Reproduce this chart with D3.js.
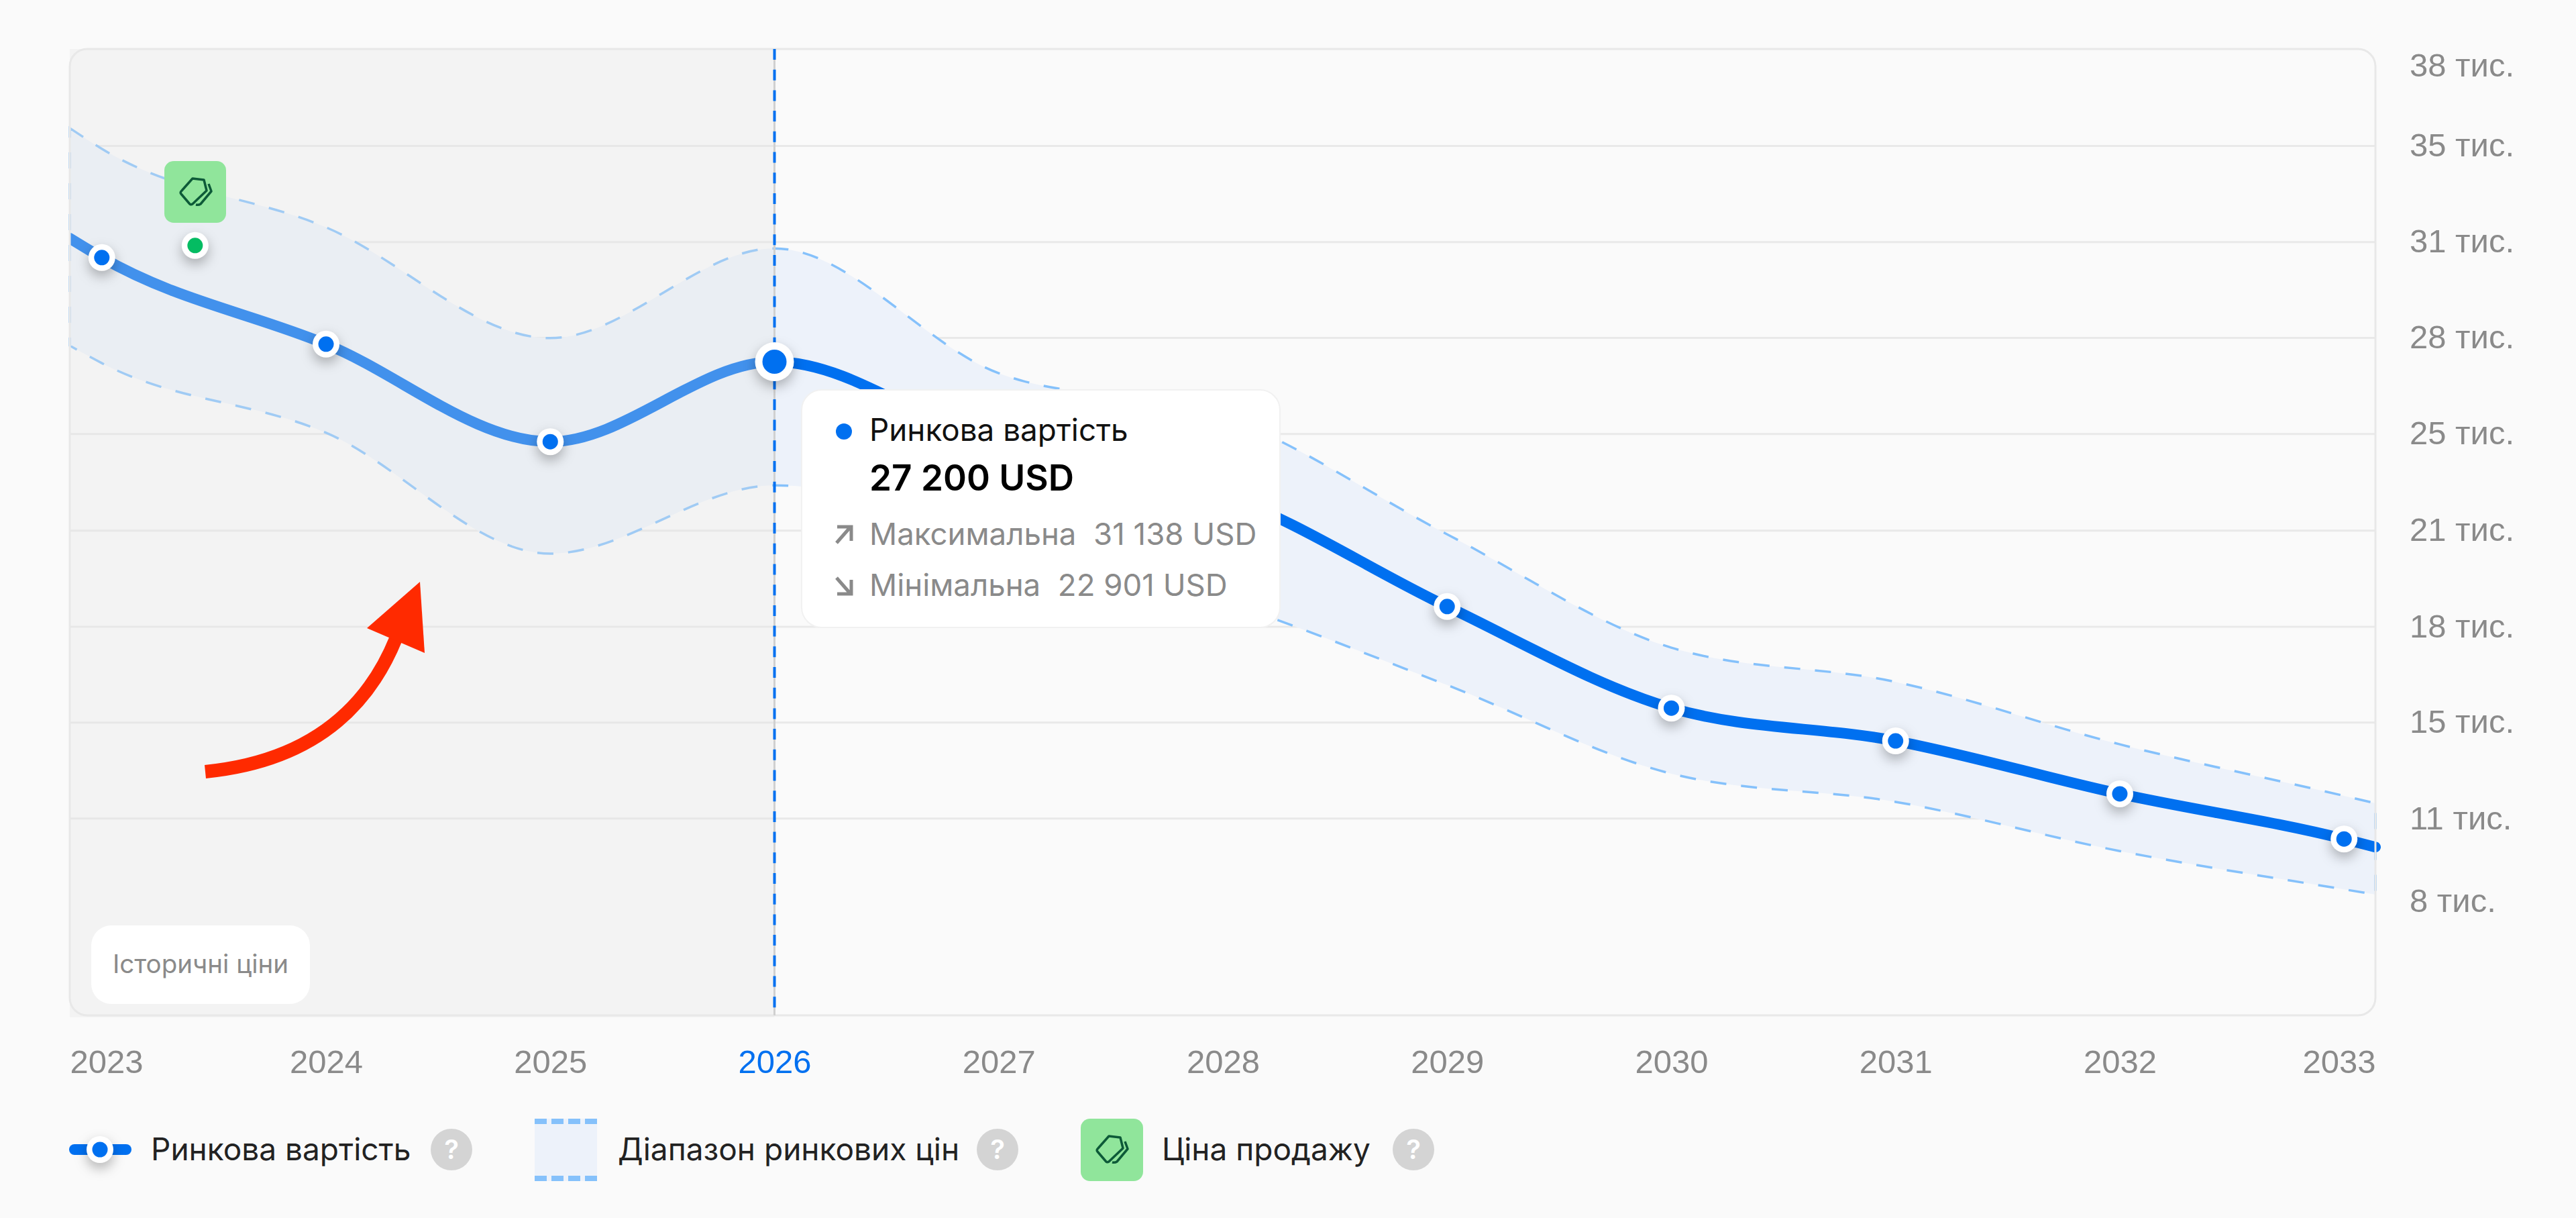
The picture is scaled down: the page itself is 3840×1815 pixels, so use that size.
<!DOCTYPE html>
<html>
<head>
<meta charset="utf-8">
<script src="https://cdnjs.cloudflare.com/ajax/libs/d3/7.8.5/d3.min.js"></script>
<style>
html,body{margin:0;padding:0;background:#fafafa;}
svg{display:block;font-family:Inter,"Noto Sans",sans-serif;}
.shadow{filter:drop-shadow(0 8px 9px rgba(0,0,0,.28));}
</style>
</head>
<body>
<svg id="chart" width="3840" height="1815"></svg>
<script>
// years for the point markers
var years = [2023,2024,2025,2026,2027,2028,2029,2030,2031,2032,2033];
var yearLabels = ["2023","2024","2025","2026","2027","2028","2029","2030","2031","2032","2033"];

// the curves start and stop a bit outside the first and last year
var lineYears = [2022.857,2023,2024,2025,2026,2027,2028,2029,2030,2031,2032,2033,2033.14];
var marketValue = [31490,30820,27810,24420,27200,24260,22580,18690,15160,14020,12180,10610,10330];
var rangeMax = [35320,34600,31870,28020,31138,26800,25310,21200,17260,16070,13900,12110,11850];
var rangeMin = [27760,27150,24730,20530,22901,21340,18900,15960,12880,11900,10190,8860,8680];

var yTicks = [37500,34710,31370,28040,24700,21340,18000,14670,11330,8450];
var yTickLabels = ["38 тис.","35 тис.","31 тис.","28 тис.","25 тис.","21 тис.","18 тис.","15 тис.","11 тис.","8 тис."];
var gridTicks = yTicks.slice(1,9);

var saleYear = 2023.416;
var saleValue = 31240;
var currentYear = 2026;

var legendLabels = ["Ринкова вартість","Діапазон ринкових цін","Ціна продажу"];

var blue = "#0070f0";
var grey = "#8a8a8a";

var svg = d3.select("#chart");
var left = 104, right = 3541, top_ = 73, bottom = 1513;

var x = d3.scaleLinear().domain([2022.857,2033.14]).range([left,right]);
var y = d3.scaleLinear().domain([4480,38070]).range([bottom,top_]);

var rows = lineYears.map(function(d,i){
    return {year:d,value:marketValue[i],max:rangeMax[i],min:rangeMin[i]};
});

var defs = svg.append("defs");
defs.append("clipPath").attr("id","leftClip").append("rect")
    .attr("x",left).attr("y",0).attr("width",3840-left).attr("height",1815);

// grid
var grid = svg.append("g")
    .attr("transform","translate("+left+",0)")
    .call(d3.axisRight(y).tickValues(gridTicks).tickSize(right-left).tickFormat(""));
grid.select(".domain").remove();
grid.selectAll("line").attr("stroke","#e9e9e9").attr("stroke-width",3);

// range band
var band = d3.area()
    .x(function(d){return x(d.year)})
    .y0(function(d){return y(d.min)})
    .y1(function(d){return y(d.max)})
    .curve(d3.curveMonotoneX);

svg.append("path").datum(rows)
    .attr("d",band)
    .attr("fill","#edf2fa")
    .attr("stroke","#85c1fb")
    .attr("stroke-width",3.5)
    .attr("stroke-dasharray","24 22");

// market value line
var line = d3.line()
    .x(function(d){return x(d.year)})
    .y(function(d){return y(d.value)})
    .curve(d3.curveMonotoneX);

svg.append("path").datum(rows)
    .attr("clip-path","url(#leftClip)")
    .attr("d",line)
    .attr("fill","none")
    .attr("stroke",blue)
    .attr("stroke-width",16)
    .attr("stroke-linecap","round");

// historical part is greyed over
svg.append("rect")
    .attr("x",left).attr("y",top_)
    .attr("width",x(currentYear)-left)
    .attr("height",bottom-top_+3)
    .attr("fill","rgba(227,227,227,0.29)");

// frame
svg.append("rect")
    .attr("x",left).attr("y",top_)
    .attr("width",right-left).attr("height",bottom-top_)
    .attr("rx",26)
    .attr("fill","none")
    .attr("stroke","#e8e8e8")
    .attr("stroke-width",3);

// current year marker line
svg.append("line")
    .attr("x1",x(currentYear)).attr("x2",x(currentYear))
    .attr("y1",top_).attr("y2",bottom)
    .attr("stroke","#d0d0d0").attr("stroke-width",3);
svg.append("line")
    .attr("x1",x(currentYear)).attr("x2",x(currentYear))
    .attr("y1",top_).attr("y2",bottom)
    .attr("stroke",blue).attr("stroke-width",4)
    .attr("stroke-dasharray","16 14.7");

// axes
var yAxis = svg.append("g")
    .attr("transform","translate("+right+",0)")
    .call(d3.axisRight(y).tickValues(yTicks).tickSize(0).tickPadding(51)
        .tickFormat(function(d,i){return yTickLabels[i]}));
yAxis.select(".domain").remove();
yAxis.selectAll("text").attr("fill",grey).style("font-size","49px");

var xAxis = svg.append("g")
    .attr("transform","translate(0,"+bottom+")")
    .call(d3.axisBottom(x).tickValues(years).tickSize(0).tickPadding(51)
        .tickFormat(function(d,i){return yearLabels[i]}));
xAxis.select(".domain").remove();
xAxis.selectAll("text")
    .attr("fill",function(d){return d===currentYear?blue:grey})
    .style("font-size","49px");
// first and last label stay inside the frame
xAxis.selectAll("text").filter(function(d){return d===years[0]})
    .attr("text-anchor","start").attr("x",left-x(years[0]));
xAxis.selectAll("text").filter(function(d){return d===years[years.length-1]})
    .attr("text-anchor","end").attr("x",right-x(years[years.length-1]));

// points
function drawPoint(g,cx,cy,r,inner,color){
    var p = g.append("g").attr("class","shadow");
    p.append("circle").attr("cx",cx).attr("cy",cy).attr("r",r).attr("fill","#fff");
    p.append("circle").attr("cx",cx).attr("cy",cy).attr("r",inner).attr("fill",color);
}
var points = svg.append("g");
rows.forEach(function(d){
    if(years.indexOf(d.year)<0) return;
    if(d.year===currentYear) drawPoint(points,x(d.year),y(d.value),29,18,blue);
    else drawPoint(points,x(d.year),y(d.value),20,11.5,blue);
});

// tag icon
function drawTag(g,cx,cy){
    var t = g.append("g").attr("transform","translate("+cx+","+cy+")")
        .attr("fill","none").attr("stroke","#0d5a38").attr("stroke-width",3.5).attr("stroke-linejoin","round");
    t.append("path").attr("d","M-4,-20 L13,-18 L17,-2 L-4,18 Q-7,20 -9,17 L-21,3 Q-23,1 -20,-2 Z");
    t.append("path").attr("d","M20,-12 L24,-1 L8,18 Q5,20 1,19");
}

// sale point and tag
drawPoint(points,x(saleYear),y(saleValue),20,11.5,"#04bc62");
svg.append("rect").attr("x",245).attr("y",240).attr("width",92).attr("height",92).attr("rx",14).attr("fill","#90e59b");
drawTag(svg,291,286);

// tooltip
var tip = svg.append("g");
tip.append("rect")
    .attr("x",1195).attr("y",581).attr("width",713).attr("height",354).attr("rx",30)
    .attr("fill","#fff").attr("stroke","#f1f1f1").attr("stroke-width",2);
tip.append("circle").attr("cx",1258).attr("cy",643).attr("r",12).attr("fill",blue);
tip.append("text").attr("x",1296).attr("y",657).attr("fill","#111").style("font-size","45.8px").text("Ринкова вартість");
tip.append("text").attr("x",1296).attr("y",731).attr("fill","#000").style("font-size","53px").style("font-weight",600).text("27 200 USD");
tip.append("text").attr("x",1296).attr("y",812).attr("fill",grey).style("font-size","45.6px").attr("xml:space","preserve").text("Максимальна  31 138 USD");
tip.append("text").attr("x",1296).attr("y",888).attr("fill",grey).style("font-size","45.6px").attr("xml:space","preserve").text("Мінімальна  22 901 USD");
tip.append("path").attr("d","M1247,809 L1268,785 M1248,785 L1269,785 L1269,806")
    .attr("fill","none").attr("stroke",grey).attr("stroke-width",5);
tip.append("path").attr("d","M1247,861 L1268,885 M1248,885 L1269,885 L1269,864")
    .attr("fill","none").attr("stroke",grey).attr("stroke-width",5);

// the red pointer arrow
var arrowPath = d3.path();
arrowPath.moveTo(306,1150);
arrowPath.quadraticCurveTo(518,1129,590,952);
svg.append("path").attr("d",arrowPath.toString()).attr("fill","none").attr("stroke","#ff2a00").attr("stroke-width",20);
svg.append("path").attr("d","M626,867 L547,936 L633,973 Z").attr("fill","#ff2a00");

// historical label
svg.append("rect").attr("x",136).attr("y",1379).attr("width",326).attr("height",117).attr("rx",30).attr("fill","#fff");
svg.append("text").attr("x",299).attr("y",1437).attr("dy",".35em").attr("text-anchor","middle")
    .attr("fill",grey).style("font-size","38.5px").text("Історичні ціни");

// legend
var legY = 1713;
function help(cx){
    svg.append("circle").attr("cx",cx).attr("cy",legY).attr("r",31).attr("fill","#d4d4d4");
    svg.append("text").attr("x",cx).attr("y",legY).attr("dy",".36em").attr("text-anchor","middle")
        .attr("fill","#fff").style("font-size","40px").style("font-weight",600).text("?");
}
function legendText(tx,s){
    svg.append("text").attr("x",tx).attr("y",legY).attr("dy",".35em")
        .attr("fill","#222").style("font-size","46px").text(s);
}
svg.append("rect").attr("x",103).attr("y",legY-8).attr("width",93).attr("height",16).attr("rx",8).attr("fill",blue);
drawPoint(svg,149,legY,20,11.5,blue);
legendText(225,legendLabels[0]);
help(673);

svg.append("rect").attr("x",797).attr("y",1667).attr("width",93).attr("height",93).attr("fill","#edf2fa");
[1671,1756].forEach(function(ly){
    svg.append("line").attr("x1",797).attr("x2",890).attr("y1",ly).attr("y2",ly)
        .attr("stroke","#85c1fb").attr("stroke-width",8).attr("stroke-dasharray","18 7");
});
legendText(921,legendLabels[1]);
help(1487);

svg.append("rect").attr("x",1611).attr("y",1667).attr("width",93).attr("height",93).attr("rx",14).attr("fill","#90e59b");
drawTag(svg,1657,1713);
legendText(1732,legendLabels[2]);
help(2107);
</script>
</body>
</html>
